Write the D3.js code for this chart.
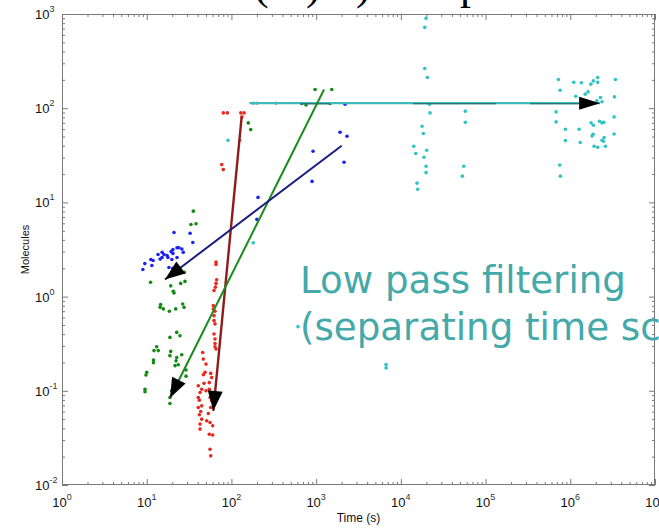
<!DOCTYPE html>
<html>
<head>
<meta charset="utf-8">
<script src="https://cdn.jsdelivr.net/npm/d3@7"></script>
<style>
  html, body { margin: 0; padding: 0; background: #fff; overflow: hidden; }
  svg { display: block; }
</style>
</head>
<body>
<svg id="chart" width="659" height="528"></svg>
<script>
// ---- data (time in seconds, molecule counts) ----
const xMajorTicks = [1e0, 1e1, 1e2, 1e3, 1e4, 1e5, 1e6, 1e7];
const xTickExponents = ["0", "1", "2", "3", "4", "5", "6", "7"];
const yMajorTicks = [1e-2, 1e-1, 1e0, 1e1, 1e2, 1e3];
const yTickExponents = ["-2", "-1", "0", "1", "2", "3"];

const bluePts = [
  [21, 4.8], [32.5, 4.7], [35, 3.75], [24, 3.3], [22.8, 3.3], [26, 3.2], [20.4, 3.15],
  [19.4, 3.0], [27, 2.95], [15.2, 2.95], [16, 2.8], [17.4, 2.73], [13.6, 2.8], [20.4, 2.87],
  [17.8, 2.6], [22.8, 2.6], [19.8, 2.48], [11.9, 2.42], [11.2, 2.48], [9.5, 2.24], [11.5, 2.14],
  [9.0, 1.94], [18.3, 2.04], [20.4, 2.0], [24.7, 1.9], [19.8, 1.8], [15.2, 2.6], [14.4, 2.5],
  [206, 11.3], [919, 34.9], [895, 16.7], [1915, 55.6], [2317, 50.4], [2133, 26.7], [200, 6.6],
  [2193, 110]
];
const greenPts = [
  [971, 158], [1528, 158], [158, 69.8], [169, 59.3], [35.5, 8.07], [33.3, 5.83], [38.2, 5.93],
  [27.8, 1.81], [11.1, 1.42], [28.3, 1.45], [25.2, 1.38], [19.2, 1.30], [20.6, 1.14], [21, 1.09],
  [14.6, 0.822], [14.4, 0.769], [15.7, 0.740], [18.5, 0.698], [22, 0.740], [26.6, 0.835], [27.6, 0.769],
  [18.8, 0.369], [22.6, 0.417], [24.7, 0.384], [13.1, 0.294], [13.7, 0.267], [12.2, 0.267], [19.2, 0.262],
  [18.8, 0.236], [25.9, 0.241], [22.6, 0.226], [12.0, 0.212], [12.0, 0.199], [22.2, 0.208], [21.6, 0.185],
  [23.6, 0.189], [29.1, 0.166], [10, 0.157], [9.8, 0.147], [29.1, 0.143], [20.6, 0.128], [21.6, 0.113],
  [19.7, 0.1], [9.55, 0.104], [9.55, 0.0976], [18.8, 0.0849], [18.8, 0.0733],
  [676, 112], [760, 108], [1459, 112]
];
const redPts = [
  [80.2, 89.1], [89.5, 89.1], [129, 89.1], [141, 89.1], [133, 80.8], [76.8, 25.2], [80.2, 22.3],
  [65.8, 2.32], [65.8, 2.19], [67, 1.51], [65.8, 1.38], [64.6, 1.26], [62.3, 1.16], [61.1, 0.802],
  [61.1, 0.739], [64, 0.698], [62.3, 0.628], [62.3, 0.556], [64, 0.513], [62.3, 0.401], [64, 0.355],
  [64, 0.318], [64, 0.294], [65.8, 0.278], [45.8, 0.255], [46.6, 0.217], [50.1, 0.192], [48.8, 0.157],
  [46.6, 0.148], [57, 0.153], [58.5, 0.138], [54.8, 0.122], [47.5, 0.12], [40.6, 0.113], [44.6, 0.104],
  [50.1, 0.1], [54.8, 0.104], [42.6, 0.096], [40.6, 0.085], [55.9, 0.085], [41.8, 0.0796], [58.5, 0.0783],
  [44.6, 0.0692], [40.6, 0.0664], [57, 0.0664], [43.4, 0.0602], [41.8, 0.0556], [53.4, 0.0574],
  [44.6, 0.05], [51.1, 0.048], [55.9, 0.046], [42.6, 0.0443], [60.1, 0.0425], [42.6, 0.0392],
  [54.8, 0.0346], [60.1, 0.034], [55.9, 0.024], [57, 0.0204]
];
const cyanPts = [
  [19850, 899], [19150, 722], [19150, 264], [20550, 212], [21700, 110], [22100, 89.1], [57700, 93],
  [57700, 71], [17800, 64.4], [18450, 53.8], [14200, 39.4], [15000, 33], [20200, 35.8], [18800, 30.1],
  [19850, 24.2], [19850, 20.7], [55300, 24.2], [53200, 19.0], [15500, 16.0], [15800, 13.8],
  [724000, 202], [758000, 155], [1.10e6, 188], [1.35e6, 186], [1.75e6, 180], [1.87e6, 195],
  [2.11e6, 212], [2.11e6, 188], [3.41e6, 202], [1.16e6, 134], [1.50e6, 141], [1.62e6, 149],
  [2.27e6, 130], [2.06e6, 120], [2.37e6, 117], [3.32e6, 132], [1.65e6, 112], [680000, 91.4],
  [680000, 71.5], [1.76e6, 69.8], [1.88e6, 66], [2.21e6, 72.7], [2.37e6, 69.8], [2.49e6, 71],
  [3.29e6, 80.8], [875000, 59.8], [1.27e6, 59.8], [1.86e6, 52.9], [1.81e6, 50.7], [3.29e6, 53.3],
  [875000, 45.3], [1.31e6, 43.2], [2.37e6, 45.7], [2.46e6, 44.6], [2.51e6, 48.8], [1.91e6, 39.4],
  [2.11e6, 38.5], [2.60e6, 39.4], [751000, 24.9], [764000, 19.0],
  [6690, 0.19], [6690, 0.175], [611, 0.48], [181, 3.72], [91, 45.7], [1017, 112]
];
const grayPts = [[180, 113], [199, 113], [336, 113], [126, 45.7]];

// trend arrows: [start, tip]
const blueTrend = [[2000, 40], [16.4, 1.52]];
const greenTrend = [[1240, 158], [18.8, 0.084]];
const redTrend = [[132, 80.8], [61.1, 0.0612]];
const cyanTrend = [[163, 113], [2.25e6, 113]];
const cyanTrendDarkSpans = [[646, 1460], [13900, 133000], [335000, 1.31e6]];

const noteLines = ["Low pass filtering", "(separating time scales)"];
const titleGlyphs = ["(", ")", ")", "p"];

// ---- layout ----
const svg = d3.select("#chart");
const plot = { left: 62, right: 655, top: 14, bottom: 485 };

const x = d3.scaleLog().domain([1, 1e7]).range([plot.left, plot.right]);
const y = d3.scaleLog().domain([1e-2, 1e3]).range([plot.bottom, plot.top]);

const axisColor = "#7a7a7a";
const labelFont = "'Liberation Sans', Arial, Helvetica, sans-serif";

// minor tick values: 2..9 in every decade
function minorTicks(lo, hi) {
  const out = [];
  for (let e = lo; e < hi; e++) for (let m = 2; m <= 9; m++) out.push(m * Math.pow(10, e));
  return out;
}
const xMinor = minorTicks(0, 7);
const yMinor = minorTicks(-2, 3);

// clip for data marks
svg.append("defs").append("clipPath").attr("id", "plotClip")
  .append("rect").attr("x", plot.left).attr("y", plot.top)
  .attr("width", plot.right - plot.left).attr("height", plot.bottom - plot.top);

// ---- frame and ticks (inward, on all four sides) ----
function styleAxis(g) {
  g.select(".domain").remove();
  g.selectAll(".tick line").attr("stroke", axisColor).attr("stroke-width", 1);
  g.selectAll(".tick text").remove();
}
const axes = svg.append("g");
[[xMinor, 3], [xMajorTicks, 6]].forEach(([vals, len]) => {
  axes.append("g").attr("transform", `translate(0,${plot.bottom})`)
    .call(d3.axisBottom(x).tickValues(vals).tickSize(-len).tickFormat("")).call(styleAxis);
  axes.append("g").attr("transform", `translate(0,${plot.top})`)
    .call(d3.axisTop(x).tickValues(vals).tickSize(-len).tickFormat("")).call(styleAxis);
});
[[yMinor, 3], [yMajorTicks, 6]].forEach(([vals, len]) => {
  axes.append("g").attr("transform", `translate(${plot.left},0)`)
    .call(d3.axisLeft(y).tickValues(vals).tickSize(-len).tickFormat("")).call(styleAxis);
  axes.append("g").attr("transform", `translate(${plot.right},0)`)
    .call(d3.axisRight(y).tickValues(vals).tickSize(-len).tickFormat("")).call(styleAxis);
});
axes.append("rect")
  .attr("x", plot.left + 0.5).attr("y", plot.top + 0.5)
  .attr("width", plot.right - plot.left - 1).attr("height", plot.bottom - plot.top - 1)
  .attr("fill", "none").attr("stroke", axisColor).attr("stroke-width", 1);

// ---- tick labels as 10^n ----
const xl = svg.append("g").attr("font-family", labelFont).attr("fill", "#111");
xMajorTicks.forEach((v, i) => {
  const t = xl.append("text").attr("x", x(v)).attr("y", 507)
    .attr("text-anchor", "middle").attr("font-size", 13);
  t.append("tspan").text("10");
  t.append("tspan").attr("dy", -7).attr("font-size", 9).attr("fill", "#333").text(xTickExponents[i]);
});
const yl = svg.append("g").attr("font-family", labelFont).attr("fill", "#111");
yMajorTicks.forEach((v, i) => {
  const t = yl.append("text").attr("x", 35).attr("y", y(v) + 5)
    .attr("text-anchor", "start").attr("font-size", 13);
  t.append("tspan").text("10");
  t.append("tspan").attr("dy", -7).attr("font-size", 9).attr("fill", "#333").text(yTickExponents[i]);
});

// axis titles
svg.append("text").attr("x", (plot.left + plot.right) / 2).attr("y", 522)
  .attr("text-anchor", "middle").attr("font-family", labelFont).attr("font-size", 12)
  .attr("fill", "#111").text("Time (s)");
svg.append("text")
  .attr("transform", `translate(29,${(plot.top + plot.bottom) / 2}) rotate(-90)`)
  .attr("text-anchor", "middle").attr("font-family", labelFont).attr("font-size", 11)
  .attr("fill", "#111").text("Molecules");

// ---- scatter points ----
const marks = svg.append("g").attr("clip-path", "url(#plotClip)");
function scatter(pts, color) {
  marks.append("g").selectAll("circle").data(pts).join("circle")
    .attr("cx", d => x(d[0])).attr("cy", d => y(d[1])).attr("r", 1.8).attr("fill", color);
}
scatter(grayPts, "#9a9a9a");
scatter(redPts, "#e8281e");
scatter(greenPts, "#128a12");
scatter(bluePts, "#1c22f0");
scatter(cyanPts, "#2cc4c4");

// ---- trend lines with filled arrowheads ----
function trend(seg, color, width) {
  const p0 = [x(seg[0][0]), y(seg[0][1])], p1 = [x(seg[1][0]), y(seg[1][1])];
  marks.append("line").attr("x1", p0[0]).attr("y1", p0[1]).attr("x2", p1[0]).attr("y2", p1[1])
    .attr("stroke", color).attr("stroke-width", width);
  return [p0, p1];
}
function arrowHead(p0, p1, len, half) {
  const dx = p1[0] - p0[0], dy = p1[1] - p0[1], n = Math.hypot(dx, dy);
  const ux = dx / n, uy = dy / n;
  const bx = p1[0] - ux * len, by = p1[1] - uy * len;
  const pts = [[p1[0], p1[1]], [bx - uy * half, by + ux * half], [bx + uy * half, by - ux * half]];
  marks.append("path").attr("d", d3.line()(pts) + "Z").attr("fill", "#000");
}

const cy = trend(cyanTrend, "#3cbcbc", 2.2);
cyanTrendDarkSpans.forEach(s => {
  marks.append("line").attr("x1", x(s[0])).attr("x2", x(s[1]))
    .attr("y1", y(cyanTrend[0][1]) + 0.6).attr("y2", y(cyanTrend[0][1]) + 0.6)
    .attr("stroke", "#2a5e5e").attr("stroke-width", 1.1);
});
const rd = trend(redTrend, "#8e1c1c", 2.4);
const gr = trend(greenTrend, "#1c8a1c", 2);
const bl = trend(blueTrend, "#1c1c80", 2);
arrowHead(bl[0], bl[1], 20, 7.5);
arrowHead(gr[0], gr[1], 20, 7.5);
arrowHead(rd[0], rd[1], 20, 7.5);
arrowHead(cy[0], cy[1], 21, 6.5);

// ---- annotation ----
const note = svg.append("text").attr("font-family", "'DejaVu Sans', Verdana, sans-serif")
  .attr("font-size", 41).attr("fill", "#43a9a9");
note.append("tspan").attr("x", 300).attr("y", 293).text(noteLines[0]);
note.append("tspan").attr("x", 300).attr("y", 340).text(noteLines[1]);
// fit the first line to its measured width
const firstWidth = note.select("tspan").node().getComputedTextLength();
note.attr("font-size", 41 * 326 / firstWidth);

// heading glyphs running off the top edge
const headX = [254, 306, 356, 460];
titleGlyphs.forEach((g, i) => {
  svg.append("text").attr("x", headX[i]).attr("y", -1)
    .attr("font-family", "'Liberation Serif', 'Times New Roman', serif")
    .attr("font-size", 44).attr("fill", "#000").text(g);
});
</script>
</body>
</html>
